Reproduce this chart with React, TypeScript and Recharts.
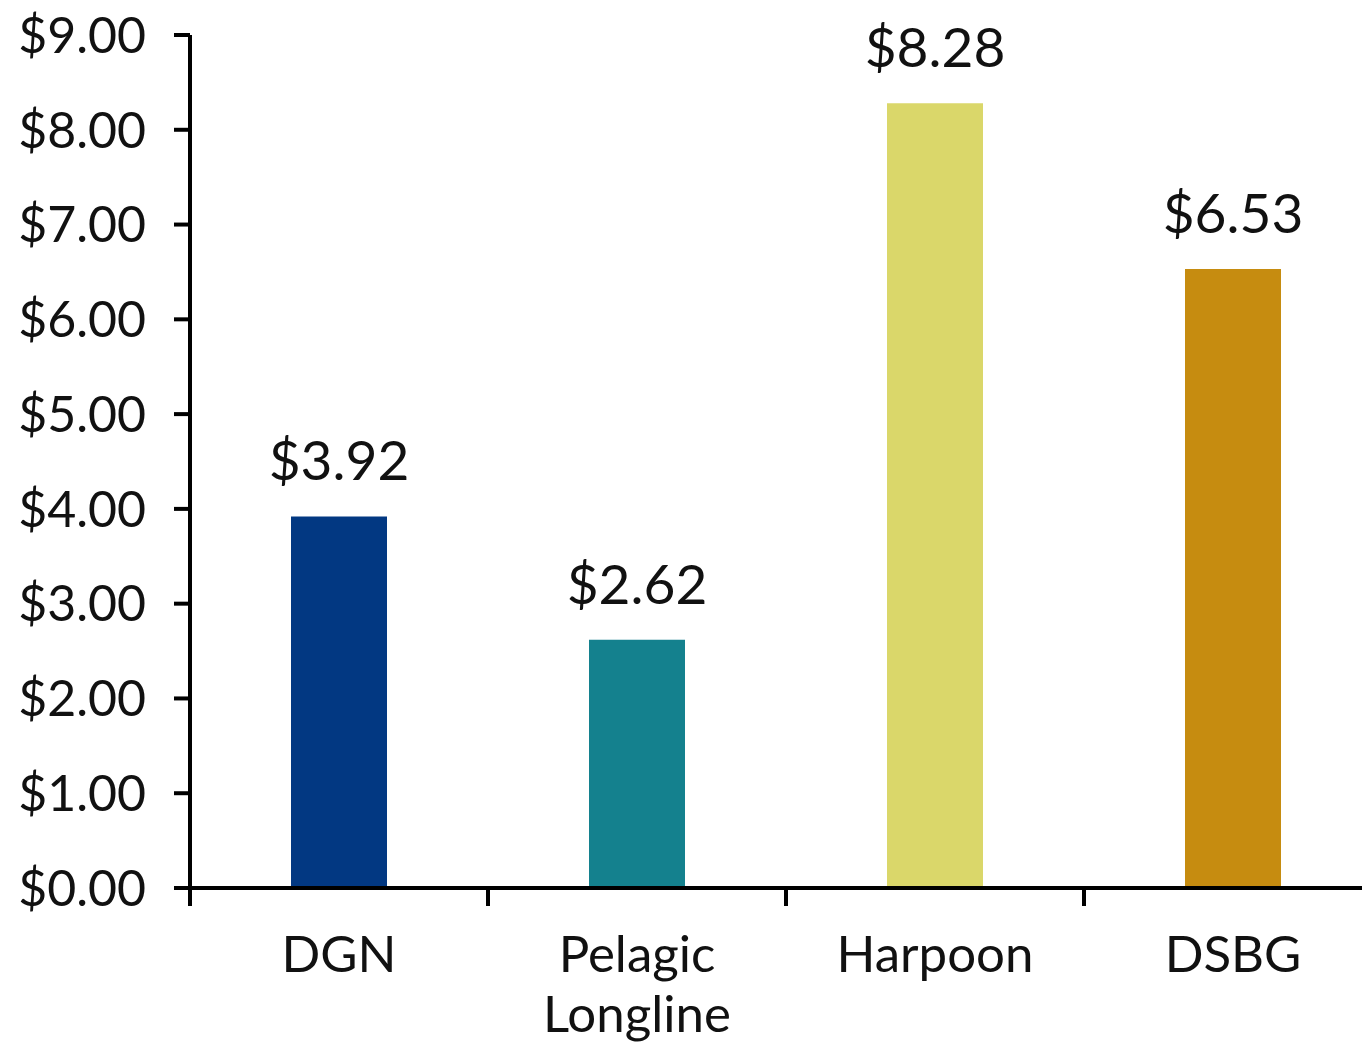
import { BarChart, Bar, XAxis, YAxis, Cell, LabelList } from 'recharts'

// valores (US$)
const gears = ['DGN', 'Pelagic Longline', 'Harpoon', 'DSBG']
const values = [3.92, 2.62, 8.28, 6.53]
const yTicks = [0, 1, 2, 3, 4, 5, 6, 7, 8, 9]

const palette = ['#023882', '#14818e', '#dad76a', '#c68c10']

const data = gears.map((name, i) => ({ name, value: values[i] }))

const FONT = 'Lato, "Open Sans", sans-serif'
const CHART_W = 1382
const CHART_H = 1045
const LEFT = 190
const PLOT_W = CHART_W - LEFT
const BAND = PLOT_W / gears.length

const money = (v: number) => `$${Number(v).toFixed(2)}`

function GearTick(props: any) {
  const { x, y, payload } = props
  const words = String(payload.value).split(' ')
  const edge = x - BAND / 2
  return (
    <g>
      <line x1={edge} y1={y} x2={edge} y2={y + 18} stroke="#000" strokeWidth={4} />
      {words.map((w: string, i: number) => (
        <text
          key={i}
          x={x}
          y={y}
          dy={84 + i * 60}
          textAnchor="middle"
          fill="#111"
          fontSize={51}
          fontFamily={FONT}
        >
          {w}
        </text>
      ))}
    </g>
  )
}

export default function App() {
  return (
    <div
      style={{
        position: 'absolute',
        left: 0,
        top: 0,
        width: 1362,
        height: CHART_H,
        overflow: 'hidden',
        background: '#fff',
      }}
    >
      <BarChart
        width={CHART_W}
        height={CHART_H}
        data={data}
        margin={{ top: 35, right: 0, left: 0, bottom: 0 }}
        barCategoryGap={0}
      >
        <XAxis
          dataKey="name"
          interval={0}
          tickLine={false}
          tickSize={0}
          tickMargin={0}
          axisLine={{ stroke: '#000', strokeWidth: 4 }}
          tick={<GearTick />}
          height={157}
        />
        <YAxis
          width={LEFT}
          domain={[0, 9]}
          ticks={yTicks}
          interval={0}
          tickFormatter={money}
          tickSize={16}
          tickMargin={28}
          axisLine={{ stroke: '#000', strokeWidth: 4 }}
          tickLine={{ stroke: '#000', strokeWidth: 4 }}
          tick={{ fontSize: 50, fill: '#111', fontFamily: FONT }}
        />
        <Bar dataKey="value" barSize={96} isAnimationActive={false}>
          {data.map((_, i) => (
            <Cell key={i} fill={palette[i]} />
          ))}
          <LabelList
            dataKey="value"
            position="top"
            offset={36}
            formatter={(v: any) => money(v)}
            style={{ fontSize: 55, fill: '#111', fontFamily: FONT }}
          />
        </Bar>
      </BarChart>
    </div>
  )
}
